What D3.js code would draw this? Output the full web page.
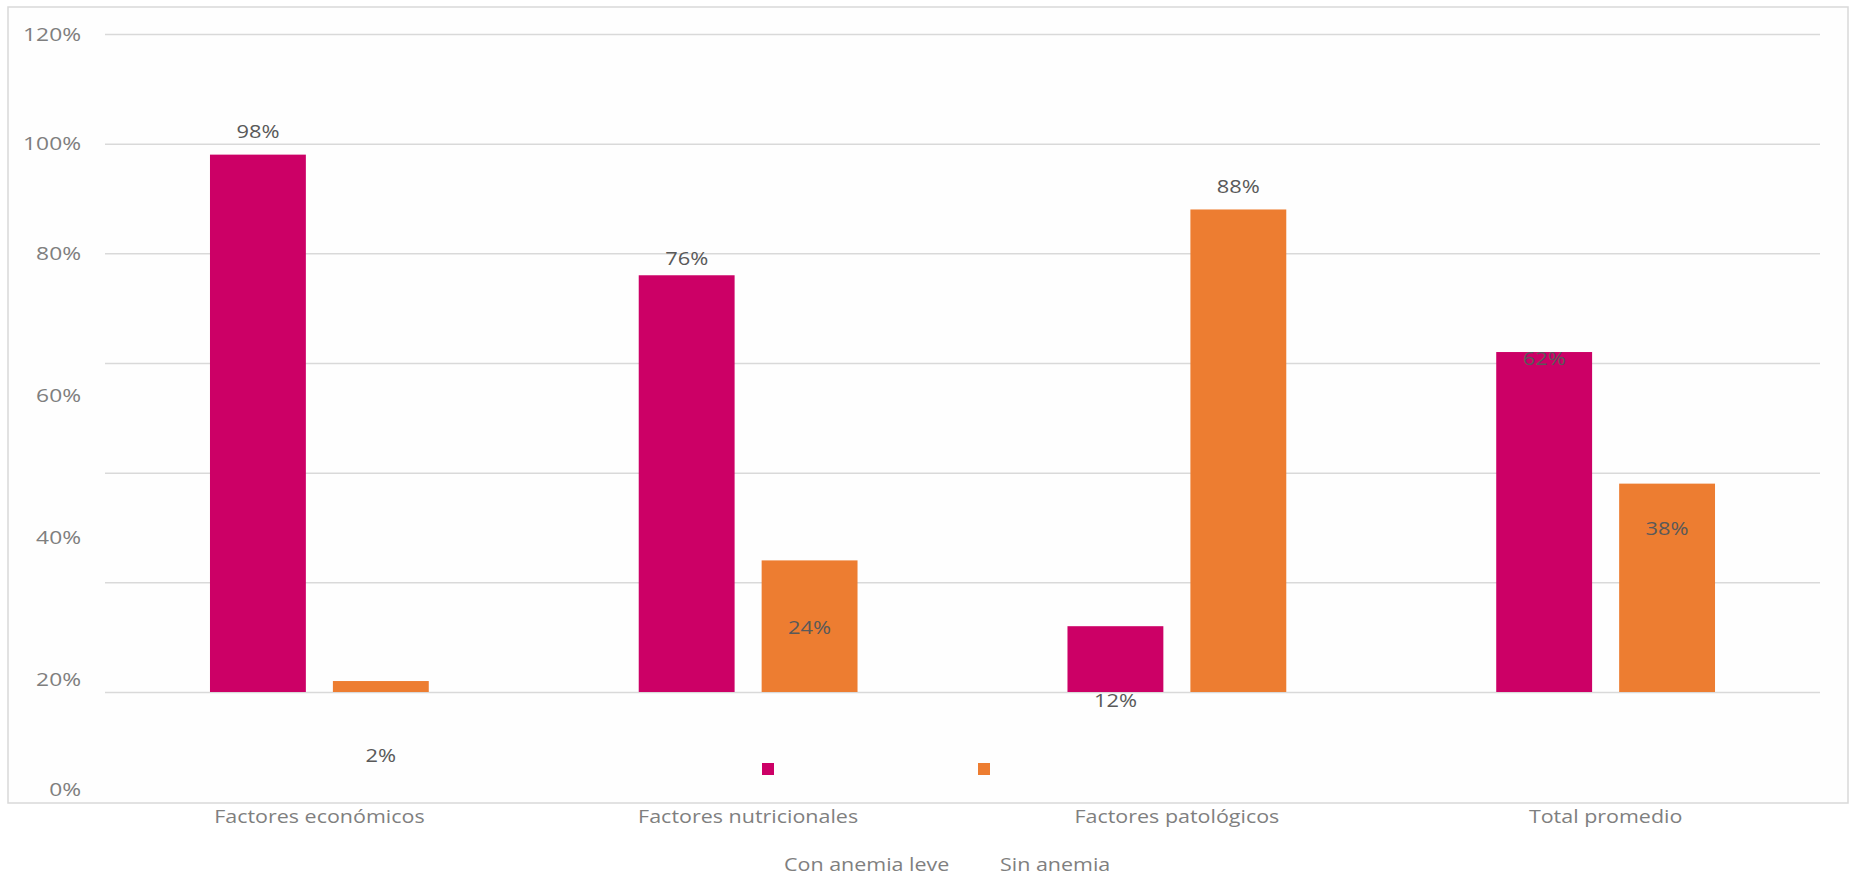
<!DOCTYPE html>
<html>
<head>
<meta charset="utf-8">
<script src="https://cdn.jsdelivr.net/npm/d3@7"></script>
<style>
    html, body { margin: 0; padding: 0; background: #fff; }
    #chart { width: 1849px; height: 877px; }
    text { font-family: 'Open Sans', sans-serif; }
</style>
</head>
<body>
<div id="chart"></div>
<script>
const categories = ['Factores económicos', 'Factores nutricionales', 'Factores patológicos', 'Total promedio'];
const seriesNames = ['Con anemia leve', 'Sin anemia'];
const conAnemiaLeve = [98, 76, 12, 62];
const sinAnemia = [2, 24, 88, 38];
const tickValues = [0, 20, 40, 60, 80, 100, 120];

const colors = ['#cc0066', '#ed7d31'];

const width = 1849;
const height = 877;
const frame = { left: 8, top: 7, right: 1848, bottom: 803 };
const plot = { left: 105, right: 1820, top: 34, bottom: 692 };

const svg = d3.select('#chart').append('svg')
    .attr('width', width)
    .attr('height', height)
    .attr('viewBox', `0 0 ${width} ${height}`);

// original text is a little wider than the font, stretch it around its anchor
function stretch(sel, sx) {
    sel.each(function() {
        const t = d3.select(this);
        const x = +t.attr('x'), y = +t.attr('y');
        t.attr('x', 0).attr('y', 0)
            .attr('transform', `translate(${x},${y}) scale(${sx},1)`);
    });
}

// chart area border
svg.append('rect')
    .attr('x', frame.left)
    .attr('y', frame.top)
    .attr('width', frame.right - frame.left)
    .attr('height', frame.bottom - frame.top)
    .attr('fill', '#fefefe')
    .attr('stroke', '#d9d9d9')
    .attr('stroke-width', 1.5);

const yScale = d3.scaleLinear()
    .domain([0, 120])
    .range([plot.bottom, plot.top]);

// the tick labels (and value labels) sit on a stretched scale in the original
const labelScale = d3.scaleLinear()
    .domain([0, 20, 80, 120])
    .range([frame.bottom - 14, yScale(0) - 13, yScale(80), yScale(120)]);

const x0 = d3.scaleBand()
    .domain(categories)
    .range([plot.left, plot.right])
    .padding(0);

const x1 = d3.scaleBand()
    .domain(seriesNames)
    .range([0, x0.bandwidth()])
    .paddingInner(0.22)
    .paddingOuter(0.854);

// gridlines
const grid = svg.append('g')
    .attr('class', 'grid')
    .attr('transform', `translate(${plot.left},0)`)
    .call(d3.axisLeft(yScale)
        .tickValues(tickValues)
        .tickSize(-(plot.right - plot.left))
        .tickFormat(''));
grid.select('.domain').remove();
grid.selectAll('line')
    .attr('stroke', '#d9d9d9')
    .attr('stroke-width', 1.5);

// y tick labels
svg.append('g').selectAll('text')
    .data(tickValues)
    .enter()
    .append('text')
    .attr('x', 81)
    .attr('y', d => labelScale(d))
    .attr('dy', '0.35em')
    .attr('text-anchor', 'end')
    .attr('font-size', 19)
    .attr('fill', '#7f7f7f')
    .text(d => d + '%')
    .call(stretch, 1.2);

const rows = categories.map((c, i) => ({
    category: c,
    values: [
        { key: seriesNames[0], value: conAnemiaLeve[i], color: colors[0] },
        { key: seriesNames[1], value: sinAnemia[i], color: colors[1] }
    ]
}));

const groups = svg.append('g').selectAll('.bar-group')
    .data(rows)
    .enter()
    .append('g')
    .classed('bar-group', true)
    .attr('transform', d => `translate(${x0(d.category)},0)`);

groups.selectAll('rect')
    .data(d => d.values)
    .enter()
    .append('rect')
    .attr('x', d => x1(d.key))
    .attr('y', d => yScale(d.value))
    .attr('width', x1.bandwidth())
    .attr('height', d => yScale(0) - yScale(d.value))
    .attr('fill', d => d.color);

// data labels
groups.selectAll('.data-label')
    .data(d => d.values)
    .enter()
    .append('text')
    .classed('data-label', true)
    .attr('x', d => x1(d.key) + x1.bandwidth() / 2)
    .attr('y', d => labelScale(d.value) - 23)
    .attr('dy', '0.35em')
    .attr('text-anchor', 'middle')
    .attr('font-size', 19)
    .attr('fill', '#595959')
    .text(d => d.value + '%')
    .call(stretch, 1.15);

// category labels
svg.append('g').selectAll('text')
    .data(categories)
    .enter()
    .append('text')
    .attr('x', d => x0(d) + x0.bandwidth() / 2)
    .attr('y', 816)
    .attr('dy', '0.35em')
    .attr('text-anchor', 'middle')
    .attr('font-size', 19)
    .attr('fill', '#7f7f7f')
    .text(d => d)
    .call(stretch, 1.13);

// legend: markers are drawn up inside the plot, names below the axis
const legendX = [762, 978];
const legend = svg.append('g');
legend.selectAll('rect')
    .data(seriesNames)
    .enter()
    .append('rect')
    .attr('x', (d, i) => legendX[i])
    .attr('y', 763)
    .attr('width', 12)
    .attr('height', 12)
    .attr('fill', (d, i) => colors[i]);
legend.selectAll('text')
    .data(seriesNames)
    .enter()
    .append('text')
    .attr('x', (d, i) => legendX[i] + 22)
    .attr('y', 864)
    .attr('dy', '0.35em')
    .attr('font-size', 19)
    .attr('fill', '#7f7f7f')
    .text(d => d)
    .call(stretch, 1.13);
</script>
</body>
</html>
